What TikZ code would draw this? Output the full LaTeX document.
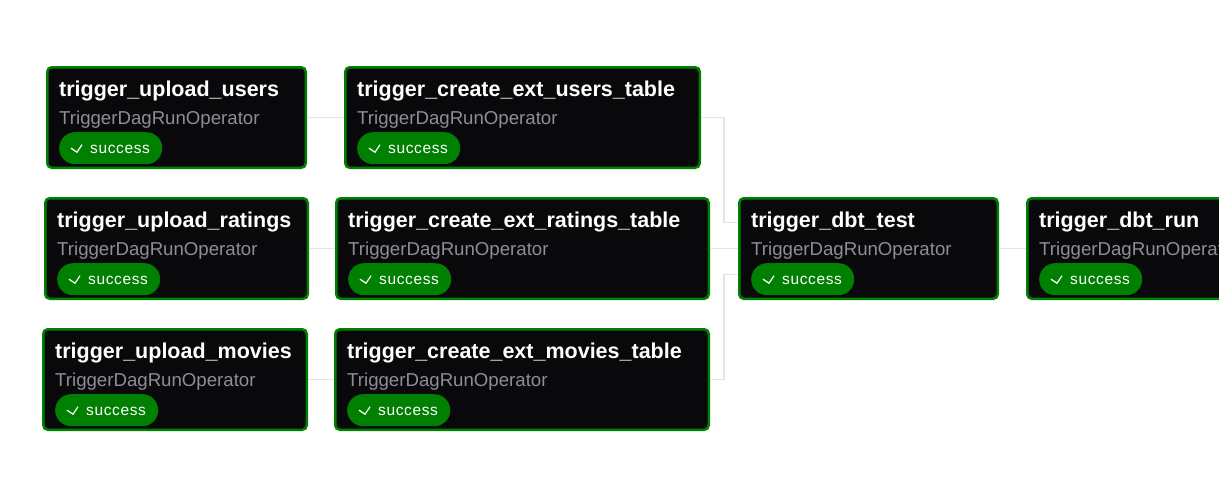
\documentclass[tikz,border=0pt]{standalone}
\usepackage{fontspec}
\setmainfont{Liberation Sans}
\usetikzlibrary{positioning}
\definecolor{stategreen}{HTML}{008000}
\definecolor{taskbg}{HTML}{09090B}
\definecolor{edgegray}{HTML}{E4E4E7}
\definecolor{opgray}{HTML}{8E8E96}
\tikzset{
    taskbox/.style={draw=stategreen, line width=2.5pt, fill=taskbg, rounded corners=4.5pt, inner sep=0pt, minimum height=100.5pt, anchor=north west},
    tasktitle/.style={anchor=base west, inner sep=0pt, text=white, font=\fontsize{21.5}{24}\selectfont\bfseries},
    taskop/.style={anchor=base west, inner sep=0pt, text=opgray, font=\fontsize{18.65}{22}\selectfont},
    statepill/.style={fill=stategreen, rounded corners=15.9pt, inner sep=0pt, minimum width=103pt, minimum height=32pt, anchor=north west},
    statetext/.style={anchor=base west, inner sep=0pt, text=white, font=\fontsize{15.5}{18}\selectfont\addfontfeature{LetterSpace=4}},
    tick/.style={draw=white, line width=1.2pt},
    edgeline/.style={draw=edgegray, line width=1.2pt}
}
% id, left, top, width, title
\newcommand{\dagtask}[5]{
    \node[taskbox, minimum width=#4-2.5pt] (#1) at (#2,#3) {};
    \node[tasktitle] (#1 title) at (#2+13,#3+30) {#5};
    \node[taskop] (#1 op) at (#2+13,#3+58) {TriggerDagRunOperator};
    \node[statepill] (#1 pill) at (#2+13,#3+66) {};
    \node[statetext] (#1 state) at (#2+44,#3+87) {success};
    \draw[tick] ([xshift=12pt]#1 pill.west) -- ++(6,4) -- ++(5,-7.5);
}
\begin{document}
\begin{tikzpicture}[x=1pt, y=-1pt]
    \clip (0,0) rectangle (1219,491);
    \fill[white] (0,0) rectangle (1219,491);

    \dagtask{upusers}{46}{66}{261}{trigger\_upload\_users}
    \dagtask{upratings}{44}{197}{265}{trigger\_upload\_ratings}
    \dagtask{upmovies}{42}{328}{266}{trigger\_upload\_movies}
    \dagtask{extusers}{344}{66}{357}{trigger\_create\_ext\_users\_table}
    \dagtask{extratings}{335}{197}{375}{trigger\_create\_ext\_ratings\_table}
    \dagtask{extmovies}{334}{328}{376}{trigger\_create\_ext\_movies\_table}
    \dagtask{dbttest}{738}{197}{261}{trigger\_dbt\_test}
    \dagtask{dbtrun}{1026}{197}{261}{trigger\_dbt\_run}

    \draw[edgeline] (upusers) -- (extusers);
    \draw[edgeline] (upratings) -- (extratings);
    \draw[edgeline] (upmovies) -- (extmovies);
    \draw[edgeline] (extusers.east) -- ++(23,0) |- ([yshift=26pt]dbttest.west);
    \draw[edgeline] (extratings) -- (dbttest);
    \draw[edgeline] (extmovies.east) -- ++(14,0) |- ([yshift=-26pt]dbttest.west);
    \draw[edgeline] (dbttest) -- (dbtrun);
\end{tikzpicture}
\end{document}
